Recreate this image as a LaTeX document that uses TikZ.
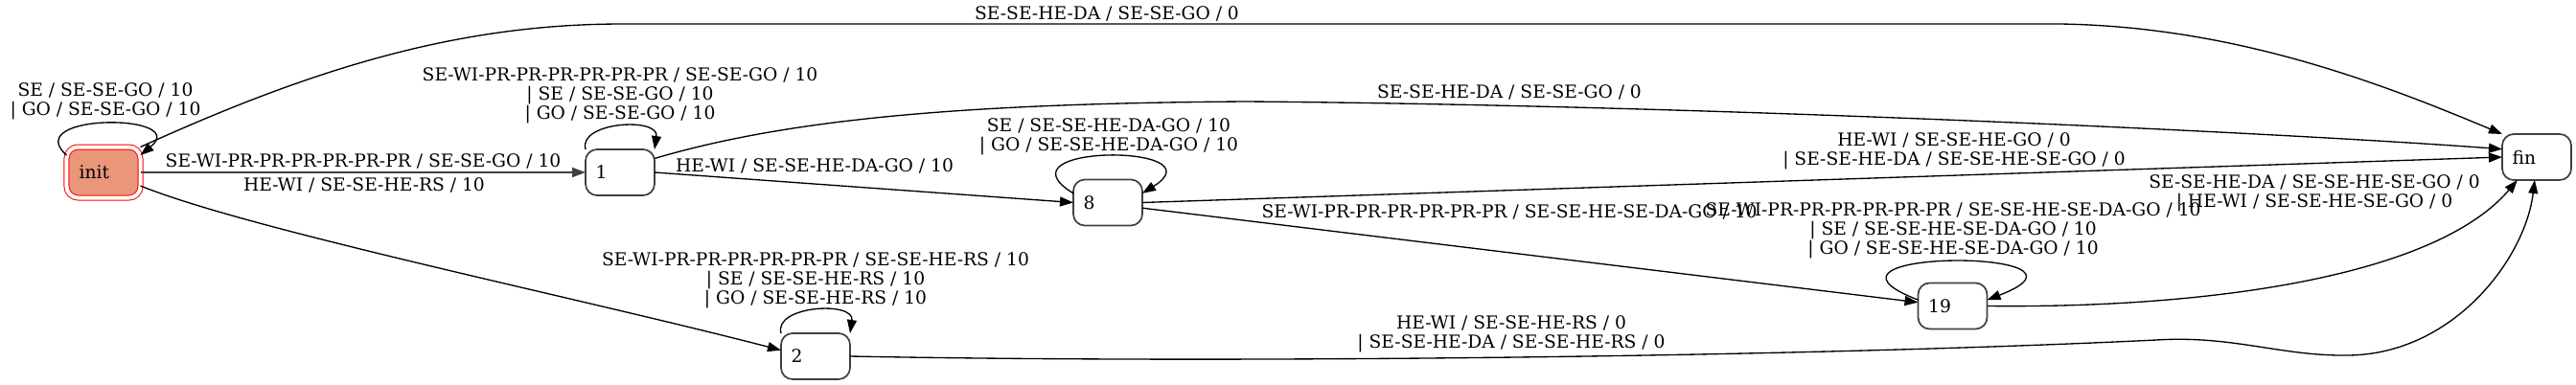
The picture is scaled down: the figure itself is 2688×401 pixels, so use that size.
\documentclass[tikz,border=0pt]{standalone}
\usepackage{fontspec}
\setmainfont{DejaVu Serif}
\usetikzlibrary{arrows.meta}
\definecolor{darksalmon}{RGB}{233,150,122}
\definecolor{rimgray}{RGB}{64,64,64}

\begin{document}
\begin{tikzpicture}[x=0.75pt,y=-0.75pt,line width=1pt,
  every node/.style={inner sep=0pt,outer sep=0pt,font=\fontsize{14pt}{15pt}\selectfont},
  state/.style={draw=rimgray,line width=1.3pt,rounded corners=9pt,minimum height=36pt,
    text width=38pt,inner xsep=8pt,align=left},
  initstate/.style={state,draw=red,fill=darksalmon,line width=0.75pt,double=white,
    double distance=3pt,minimum height=39.75pt,inner xsep=9.9pt},
  lbl/.style={align=center},
  trans/.style={-{Triangle[length=10.5pt,width=7.5pt]}}]
  % 坐标单位＝源图像素（1px＝0.75pt，y 向下）；源画布 2688×401px
  \path[use as bounding box] (0,0) rectangle (2688,401);
  % ---- 状态：中心取源图框心 ----
  \node[initstate] (init) at ( 108,180)   {init}; % px 框 67–149 × 151–209（双框外廓）
  \node[state]     (s1)   at ( 647,180)   {1};    % px 611–683 × 156–204
  \node[state]     (s8)   at (1156,211.5) {8};    % px 1120–1192 × 187–236
  \node[state]     (s2)   at ( 851,372)   {2};    % px 815–887 × 348–396
  \node[state]     (s19)  at (2037.5,319.5) {19}; % px 2001–2074 × 295–344
  \node[state]     (fin)  at (2647,164)   {fin};  % px 2611–2683 × 140–188
  % ---- 自环 ----
  \draw[trans] (init.155) .. controls (20,118) and (200,118) .. (init.25);
  \draw[trans] (s1.north west) .. controls +(-8,-29) and +(5,-34) .. (s1.north east);
  \draw[trans] (s2.north west) .. controls +(-8,-29) and +(5,-34) .. (s2.north east);
  \draw[trans] (s8.165) .. controls +(-85,-52) and +(83,-52) .. (s8.15);
  \draw[trans] (s19.170) .. controls +(-140,-54) and +(140,-54) .. (s19.10);
  % ---- 转移 ----
  \draw[trans] (init.north east) .. controls (330,70) and (480,25) .. (650,25) -- (2150,25)
    .. controls (2330,28) and (2480,85) .. (fin.north west);
  \draw[trans,draw=rimgray,line width=1.5pt] (init.east) -- (s1.west);
  \draw[trans] (init.-20) .. controls (260,240) and (600,310) .. (s2.170);
  \draw[trans] (s1.22) .. controls (820,125) and (1000,108) .. (1300,106)
    .. controls (1800,110) and (2400,140) .. (fin.167);
  \draw[trans] (s1.east) -- (s8.west);
  \draw[trans] (s8.east) -- (fin.west);
  \draw[trans] (s8.-9) -- (s19.174);
  \draw[trans] (s19.east) .. controls (2300,322) and (2540,290) .. (fin.230);
  \draw[trans] (s2.east) .. controls (1300,380) and (1900,372) .. (2250,355)
    .. controls (2330,350) and (2380,372) .. (2450,371)
    .. controls (2560,370) and (2635,270) .. (fin.265);
  % ---- 标签：中心取源图字墨心 ----
  \node[lbl] (l-init-loop) at ( 110,106) {SE / SE-SE-GO / 10\\| GO / SE-SE-GO / 10};
  \node[lbl] (l-init-fin)  at (1155, 14) {SE-SE-HE-DA / SE-SE-GO / 0};
  \node[lbl] (l-init-s1)   at ( 379,168) {SE-WI-PR-PR-PR-PR-PR-PR / SE-SE-GO / 10};
  \node[lbl] (l-init-s2)   at ( 380,193) {HE-WI / SE-SE-HE-RS / 10};
  \node[lbl] (l-s1-loop)   at ( 647,100) {SE-WI-PR-PR-PR-PR-PR-PR / SE-SE-GO / 10\\| SE / SE-SE-GO / 10\\| GO / SE-SE-GO / 10};
  \node[lbl] (l-s1-fin)    at (1575, 96) {SE-SE-HE-DA / SE-SE-GO / 0};
  \node[lbl] (l-s1-s8)     at ( 850,173) {HE-WI / SE-SE-HE-DA-GO / 10};
  \node[lbl] (l-s8-loop)   at (1157,143) {SE / SE-SE-HE-DA-GO / 10\\| GO / SE-SE-HE-DA-GO / 10};
  \node[lbl] (l-s8-fin)    at (2039,158) {HE-WI / SE-SE-HE-GO / 0\\| SE-SE-HE-DA / SE-SE-HE-SE-GO / 0};
  \node[lbl] (l-s8-s19)    at (1575,221) {SE-WI-PR-PR-PR-PR-PR-PR / SE-SE-HE-SE-DA-GO / 10};
  \node[lbl] (l-s19-loop)  at (2038,241) {SE-WI-PR-PR-PR-PR-PR-PR / SE-SE-HE-SE-DA-GO / 10\\| SE / SE-SE-HE-SE-DA-GO / 10\\| GO / SE-SE-HE-SE-DA-GO / 10};
  \node[lbl] (l-s19-fin)   at (2415,202) {SE-SE-HE-DA / SE-SE-HE-SE-GO / 0\\| HE-WI / SE-SE-HE-SE-GO / 0};
  \node[lbl] (l-s2-fin)    at (1577,349) {HE-WI / SE-SE-HE-RS / 0\\| SE-SE-HE-DA / SE-SE-HE-RS / 0};
  \node[lbl] (l-s2-loop)   at ( 851,293) {SE-WI-PR-PR-PR-PR-PR-PR / SE-SE-HE-RS / 10\\| SE / SE-SE-HE-RS / 10\\| GO / SE-SE-HE-RS / 10};
\end{tikzpicture}
\end{document}
